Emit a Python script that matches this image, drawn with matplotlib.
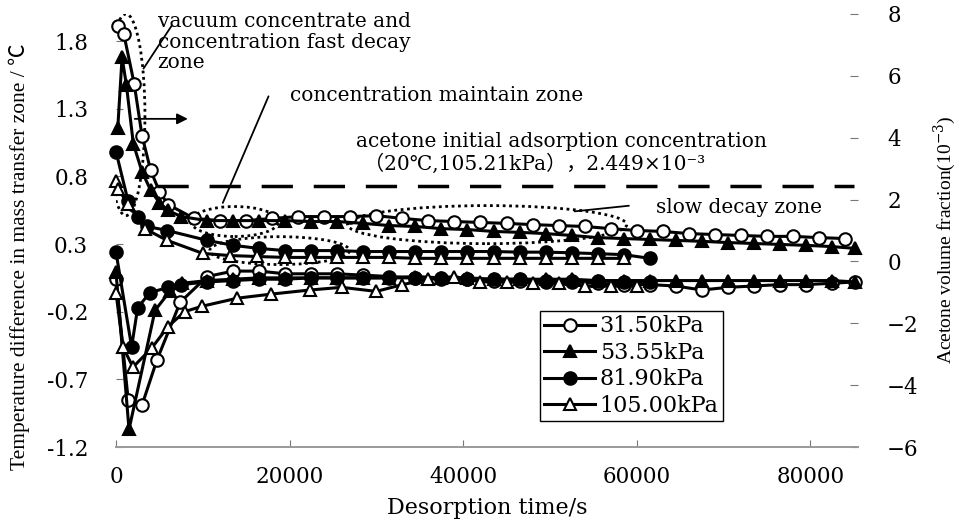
import matplotlib
matplotlib.use("Agg")
import matplotlib.pyplot as plt
from matplotlib.patches import Ellipse

plt.rcParams["font.family"] = ["DejaVu Serif", "Noto Sans CJK SC"]
plt.rcParams["mathtext.fontset"] = "dejavuserif"

# --- acetone volume fraction (10^-3), right axis ---
c315_t = [200, 900, 2100, 3000, 4000, 5000, 6000, 9000, 12000, 15000, 18000, 21000, 24000,
          27000, 30000, 33000, 36000, 39000, 42000, 45000, 48000, 51000, 54000, 57000, 60000,
          63000, 66000, 69000, 72000, 75000, 78000, 81000, 84000]
c315 = [7.61, 7.35, 5.74, 4.06, 2.94, 2.26, 1.84, 1.39, 1.32, 1.32, 1.39, 1.45, 1.45,
        1.45, 1.48, 1.39, 1.32, 1.29, 1.26, 1.23, 1.19, 1.16, 1.13, 1.06, 1.00,
        0.97, 0.90, 0.87, 0.84, 0.81, 0.81, 0.77, 0.74]

c5355_t = [200, 700, 1200, 2000, 3000, 4000, 5000, 6000, 7500, 10500, 13500, 16500, 19500,
           22500, 25500, 28500, 31500, 34500, 37500, 40500, 43500, 46500, 49500, 52500, 55500,
           58500, 61500, 64500, 67500, 70500, 73500, 76500, 79500, 82500, 85200]
c5355 = [4.3, 6.6, 5.7, 3.8, 2.9, 2.3, 1.9, 1.65, 1.45, 1.32, 1.32, 1.32, 1.32,
         1.29, 1.29, 1.23, 1.16, 1.13, 1.06, 1.03, 0.97, 0.94, 0.90, 0.84, 0.77,
         0.74, 0.71, 0.68, 0.65, 0.61, 0.58, 0.55, 0.52, 0.48, 0.42]

c819_t = [0, 1400, 2500, 3600, 5900, 10500, 13500, 16500, 19500, 22500, 25500, 28500,
          31500, 34500, 37500, 40500, 43500, 46500, 49500, 52500, 55500, 58500, 61500]
c819 = [3.55, 1.94, 1.45, 1.13, 1.00, 0.68, 0.52, 0.42, 0.35, 0.35, 0.35, 0.32,
        0.32, 0.32, 0.32, 0.32, 0.32, 0.30, 0.30, 0.28, 0.25, 0.22, 0.10]

c105_t = [0, 200, 1400, 3300, 5900, 10000, 13100, 16200, 19500, 22500, 25500, 28500,
          31500, 34500, 37500, 40500, 43500, 46500, 49500, 52500, 55500, 58500]
c105 = [2.6, 2.35, 1.87, 1.06, 0.68, 0.26, 0.19, 0.16, 0.13, 0.13, 0.13, 0.13,
        0.13, 0.10, 0.10, 0.10, 0.10, 0.10, 0.10, 0.10, 0.10, 0.10]

# --- temperature difference in mass transfer zone (C), left axis ---
T315_t = [0, 1400, 3000, 4700, 7400, 10500, 13500, 16500, 19500, 22500, 25500, 28500,
          31500, 34500, 37500, 40500, 43500, 46500, 49500, 52500, 55500, 58500, 61500,
          64500, 67500, 70500, 73500, 76500, 79500, 82500, 85200]
T315 = [0.04, -0.85, -0.89, -0.56, -0.13, 0.06, 0.10, 0.10, 0.08, 0.08, 0.08, 0.07,
        0.06, 0.05, 0.05, 0.04, 0.03, 0.03, 0.02, 0.02, 0.01, 0.00, 0.00,
        -0.01, -0.04, -0.02, -0.01, 0.00, 0.00, 0.01, 0.02]

T5355_t = [0, 1500, 4500, 6200, 7600, 10500, 13500, 16500, 19500, 22500, 25500, 28500,
           31500, 34500, 37500, 40500, 43500, 46500, 49500, 52500, 55500, 58500, 61500,
           64500, 67500, 70500, 73500, 76500, 79500, 82500, 85200]
T5355 = [0.09, -1.07, -0.19, -0.05, 0.01, 0.03, 0.04, 0.05, 0.05, 0.05, 0.05, 0.05,
         0.05, 0.06, 0.05, 0.05, 0.04, 0.04, 0.04, 0.04, 0.03, 0.03, 0.03,
         0.03, 0.03, 0.03, 0.03, 0.03, 0.03, 0.03, 0.02]

T819_t = [0, 1800, 2500, 3900, 6000, 7500, 10500, 13500, 16500, 19500, 22500, 25500,
          28500, 31500, 34500, 37500, 40500, 43500, 46500, 49500, 52500, 55500, 58500, 61500]
T819 = [0.24, -0.46, -0.17, -0.06, -0.02, 0.00, 0.02, 0.03, 0.04, 0.04, 0.05, 0.05,
        0.05, 0.05, 0.05, 0.04, 0.04, 0.04, 0.04, 0.03, 0.03, 0.03, 0.02, 0.02]

T105_t = [0, 800, 1950, 4100, 6000, 7900, 9900, 14000, 17900, 22300, 26000, 30000,
          33000, 36000, 39000, 42000, 45000, 48000, 51000, 54000, 57000, 60000]
T105 = [-0.06, -0.46, -0.61, -0.47, -0.31, -0.20, -0.16, -0.10, -0.07, -0.04, -0.02, -0.05,
        0.00, 0.04, 0.06, 0.02, 0.02, 0.01, 0.01, -0.01, -0.01, -0.01]

labels = ["31.50kPa", "53.55kPa", "81.90kPa", "105.00kPa"]
init_conc = 2.449  # acetone initial adsorption concentration, 10^-3

left_ticks = [-1.2, -0.7, -0.2, 0.3, 0.8, 1.3, 1.8]
right_ticks = [-6, -4, -2, 0, 2, 4, 6, 8]
x_ticks = [0, 20000, 40000, 60000, 80000]

# marker styles: open circle, filled triangle, filled circle, open triangle
styles = [dict(marker="o", mfc="white"), dict(marker="^", mfc="black"),
          dict(marker="o", mfc="black"), dict(marker="^", mfc="white")]

fig = plt.figure(figsize=(9.61, 5.21), dpi=100)
ax = fig.add_axes([116 / 961, 1 - 447 / 521, 742 / 961, 433 / 521])
ax2 = ax.twinx()

common = dict(color="black", lw=2.2, ms=9, mec="black", mew=1.5, clip_on=False)

for t, v, st in zip([T315_t, T5355_t, T819_t, T105_t], [T315, T5355, T819, T105], styles):
    ax.plot(t, v, **common, **st)

handles = []
for t, v, st, lab in zip([c315_t, c5355_t, c819_t, c105_t], [c315, c5355, c819, c105], styles, labels):
    h, = ax2.plot(t, v, label=lab, **common, **st)
    handles.append(h)

ax2.hlines(init_conc, 4700, 85000, colors="black", lw=2.5, linestyles=(0, (9, 6)))

ax.set_xlim(0, 85500)
ax.set_ylim(-1.2, 2.0)
ax2.set_ylim(-6, 8)
ax.set_xticks(x_ticks)
ax.set_xticklabels([str(x) for x in x_ticks])
ax.set_yticks(left_ticks)
ax.set_yticklabels([f"{v:.1f}" for v in left_ticks])
ax2.set_yticks(right_ticks)

for a in (ax, ax2):
    for s in ("top", "left", "right"):
        a.spines[s].set_visible(False)
    a.spines["bottom"].set_color("#9a9a9a")
    a.spines["bottom"].set_linewidth(1.2)

ax.tick_params(axis="x", direction="in", length=5, color="#777777", labelsize=15.5, pad=14)
ax.tick_params(axis="y", direction="in", length=5, color="#777777", labelsize=15.5, pad=20)
ax2.tick_params(axis="y", direction="in", length=6, color="#777777", labelsize=15.5, pad=21)

ax.set_xlabel("Desorption time/s", fontsize=16, labelpad=6)
label_font = ["Liberation Serif", "Noto Sans CJK SC"]
fig.text(19 / 961, 1 - 257 / 521, "Temperature difference in mass transfer zone / ℃",
         rotation=90, ha="center", va="center", fontsize=15.5, family=label_font)
fig.text(945 / 961, 1 - 240 / 521, "Acetone volume fraction(10$^{-3}$)",
         rotation=90, ha="center", va="center", fontsize=14, family=label_font)

# --- zone annotations ---
dot = dict(fill=False, ec="black", lw=2, ls=(0, (1, 1.3)))
ax2.add_patch(Ellipse((1150, 4.74), 4370, 6.52, **dot))
ax2.add_patch(Ellipse((13680, 1.29), 10100, 0.97, **dot))
ax2.add_patch(Ellipse((18850, 0.35), 16100, 0.9, **dot))
ax2.add_patch(Ellipse((42760, 1.19), 32180, 1.23, **dot))

ax2.text(4800, 8.05, "vacuum concentrate and\nconcentration fast decay\nzone",
         fontsize=14.5, va="top", ha="left", linespacing=1.1)
ax2.annotate("", xy=(2990, 6.16), xytext=(6550, 7.68),
             arrowprops=dict(arrowstyle="-", color="black", lw=1.3))
ax2.annotate("", xy=(8600, 4.61), xytext=(1840, 4.61),
             arrowprops=dict(arrowstyle="-|>", color="black", lw=1.3, mutation_scale=16))

ax2.text(20000, 5.35, "concentration maintain zone", fontsize=14.5, va="center", ha="left")
ax2.annotate("", xy=(12180, 1.81), xytext=(17700, 5.42),
             arrowprops=dict(arrowstyle="-", color="black", lw=1.3))

ax2.text(27700, 3.87, "acetone initial adsorption concentration", fontsize=14.5,
         va="center", ha="left")
ax2.text(28600, 3.16, "（20℃,105.21kPa），2.449×10⁻³", fontsize=14.5,
         va="center", ha="left")

ax2.text(62180, 1.74, "slow decay zone", fontsize=14.5, va="center", ha="left")
ax2.annotate("", xy=(52530, 1.61), xytext=(59420, 1.81),
             arrowprops=dict(arrowstyle="-", color="black", lw=1.3))

leg = ax2.legend(handles=handles, loc="upper left", bbox_to_anchor=(0.571, 0.314),
                 borderaxespad=0, fancybox=False, edgecolor="black", framealpha=1,
                 fontsize=16, handlelength=2.3, handletextpad=0.2, labelspacing=0.2,
                 borderpad=0.2)
leg.get_frame().set_linewidth(1.0)

fig.savefig("out.png", dpi=100)
